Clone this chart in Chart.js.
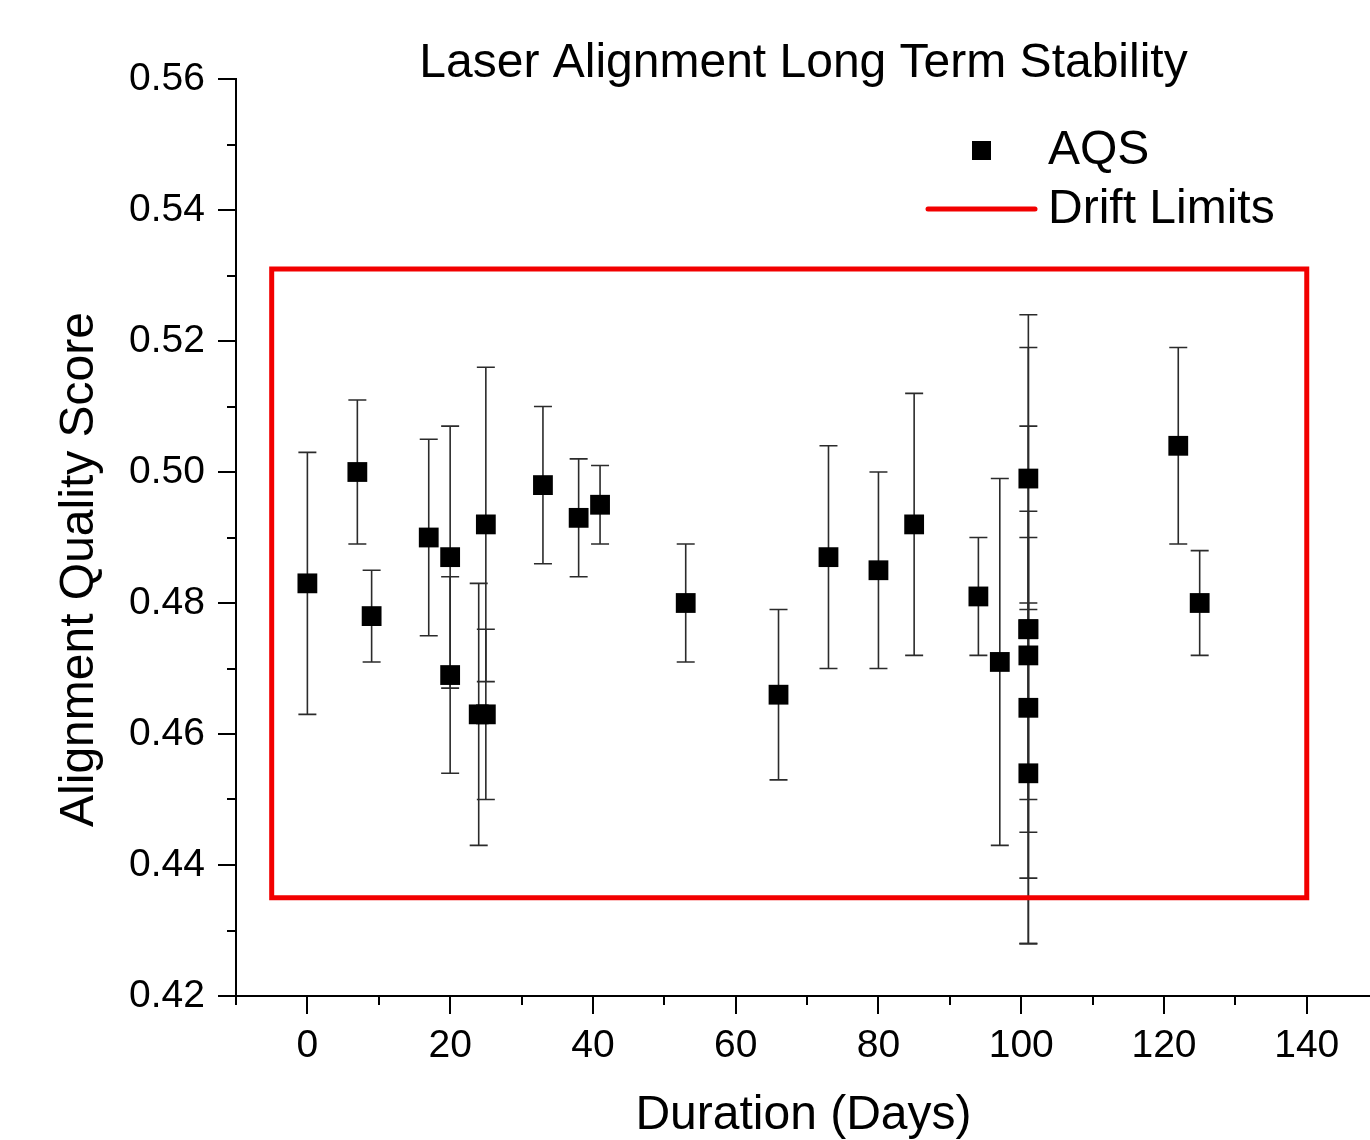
<!DOCTYPE html>
<html>
<head>
<meta charset="utf-8">
<title>Laser Alignment Long Term Stability</title>
<script src="https://cdn.jsdelivr.net/npm/chart.js@4.4.1/dist/chart.umd.min.js"></script>
<style>
  html, body { margin: 0; padding: 0; background: #fff; overflow: hidden; }
  canvas { display: block; }
</style>
</head>
<body>
<!-- canvas a little wider than the window so the x axis runs off the right edge -->
<canvas id="chart" width="1385" height="1140"></canvas>
<script>
// measurement day, alignment quality score and its +/- error
var days = [0, 7, 9, 17, 20, 20, 24, 25, 25, 33, 38, 41, 53, 66, 73, 80, 85, 94, 97, 101, 101, 101, 101, 101, 101, 122, 125]
var aqs = [0.483, 0.500, 0.478, 0.490, 0.487, 0.469, 0.463, 0.492, 0.463, 0.498, 0.493, 0.495, 0.480, 0.466, 0.487, 0.485, 0.492, 0.481, 0.471, 0.499, 0.476, 0.472, 0.464, 0.454, 0.476, 0.504, 0.480]
var aqsErr = [0.020, 0.011, 0.007, 0.015, 0.020, 0.015, 0.020, 0.024, 0.013, 0.012, 0.009, 0.006, 0.009, 0.013, 0.017, 0.015, 0.020, 0.009, 0.028, 0.020, 0.048, 0.022, 0.026, 0.026, 0.031, 0.015, 0.008]

// drift limits box (closed outline)
var driftX = [-5, -5, 140, 140, -5]
var driftY = [0.435, 0.531, 0.531, 0.435, 0.435]

// axis ticks
var xTicks = [0, 20, 40, 60, 80, 100, 120, 140]
var xMinorTicks = [-10, 10, 30, 50, 70, 90, 110, 130]
var yTicks = [0.42, 0.44, 0.46, 0.48, 0.50, 0.52, 0.54, 0.56]
var yMinorTicks = [0.43, 0.45, 0.47, 0.49, 0.51, 0.53, 0.55]

var FONT = '"Liberation Sans", Arial, Helvetica, sans-serif'

//error bars with caps, drawn under the markers
var errorBars = {
    id: 'errorBars',
    beforeDatasetsDraw(chart) {
        let ctx = chart.ctx
        let xs = chart.scales.x
        let ys = chart.scales.y
        ctx.save()
        ctx.strokeStyle = '#2b2b2b'
        ctx.lineWidth = 1.6
        days.forEach((d, i) => {
            let px = xs.getPixelForValue(d)
            let top = ys.getPixelForValue(aqs[i] + aqsErr[i])
            let bot = ys.getPixelForValue(aqs[i] - aqsErr[i])
            ctx.beginPath()
            ctx.moveTo(px, top)
            ctx.lineTo(px, bot)
            ctx.moveTo(px - 9, top)
            ctx.lineTo(px + 9, top)
            ctx.moveTo(px - 9, bot)
            ctx.lineTo(px + 9, bot)
            ctx.stroke()
        })
        ctx.restore()
    }
}

//minor ticks, y axis title and the legend
var extras = {
    id: 'extras',
    afterDraw(chart) {
        let ctx = chart.ctx
        let area = chart.chartArea
        let xs = chart.scales.x
        let ys = chart.scales.y
        ctx.save()
        ctx.strokeStyle = '#000'
        ctx.lineWidth = 2
        ctx.beginPath()
        xMinorTicks.forEach((v) => {
            let px = Math.round(xs.getPixelForValue(v))
            ctx.moveTo(px, area.bottom)
            ctx.lineTo(px, area.bottom + 9)
        })
        yMinorTicks.forEach((v) => {
            let py = Math.round(ys.getPixelForValue(v))
            ctx.moveTo(area.left, py)
            ctx.lineTo(area.left - 9, py)
        })
        ctx.stroke()

        // y axis title
        ctx.fillStyle = '#000'
        ctx.font = '48px ' + FONT
        ctx.textAlign = 'center'
        ctx.textBaseline = 'middle'
        ctx.translate(area.left - 156, (area.top + area.bottom) / 2 + 32)
        ctx.rotate(-Math.PI / 2)
        ctx.fillText('Alignment Quality Score', 0, 0)
        ctx.restore()

        // legend
        let sets = chart.data.datasets
        let lx = area.right - 323
        ctx.save()
        ctx.font = '48px ' + FONT
        ctx.textAlign = 'left'
        ctx.textBaseline = 'middle'
        ctx.fillStyle = sets[0].backgroundColor
        ctx.fillRect(lx - 76, 141, 19, 19)
        ctx.fillStyle = '#000'
        ctx.fillText(sets[0].label, lx, 151)
        ctx.strokeStyle = sets[1].borderColor
        ctx.lineWidth = 5
        ctx.lineCap = 'round'
        ctx.beginPath()
        ctx.moveTo(lx - 120, 209)
        ctx.lineTo(lx - 13, 209)
        ctx.stroke()
        ctx.fillText(sets[1].label, lx, 210)
        ctx.restore()
    }
}

new Chart(document.getElementById('chart'), {
    type: 'scatter',
    data: {
        datasets: [
            {
                label: 'AQS',
                data: days.map((d, i) => ({ x: d, y: aqs[i] })),
                pointStyle: 'rect',
                pointRadius: 14,
                backgroundColor: '#000',
                borderColor: '#000',
                borderWidth: 0,
                showLine: false,
                order: 0
            },
            {
                label: 'Drift Limits',
                data: driftX.map((x, i) => ({ x: x, y: driftY[i] })),
                showLine: true,
                fill: false,
                pointRadius: 0,
                borderColor: '#f20000',
                borderWidth: 5,
                borderJoinStyle: 'miter',
                borderCapStyle: 'square',
                tension: 0,
                order: 1
            }
        ]
    },
    options: {
        responsive: false,
        animation: false,
        events: [],
        layout: { padding: 0 },
        plugins: {
            legend: { display: false },
            tooltip: { enabled: false },
            title: {
                display: true,
                text: 'Laser Alignment Long Term Stability',
                fullSize: false,
                color: '#000',
                font: { family: FONT, size: 48, weight: 'normal', lineHeight: '30px' },
                padding: { top: 49, bottom: 0 }
            }
        },
        scales: {
            x: {
                type: 'linear',
                min: -10,
                max: 149,
                afterBuildTicks: (scale) => { scale.ticks = xTicks.map((v) => ({ value: v })) },
                afterFit: (scale) => { scale.height = 144 },
                border: { display: true, color: '#000', width: 2 },
                grid: { drawOnChartArea: false, drawTicks: true, tickLength: 18, color: '#000', lineWidth: 2 },
                ticks: {
                    color: '#000',
                    padding: 9,
                    maxRotation: 0,
                    font: { family: FONT, size: 39 }
                },
                title: {
                    display: true,
                    text: 'Duration (Days)',
                    color: '#000',
                    font: { family: FONT, size: 48 },
                    padding: { top: 0, bottom: -5 }
                }
            },
            y: {
                type: 'linear',
                min: 0.42,
                max: 0.56,
                afterBuildTicks: (scale) => { scale.ticks = yTicks.map((v) => ({ value: v })) },
                afterFit: (scale) => { scale.width = 236 },
                border: { display: true, color: '#000', width: 2 },
                grid: { drawOnChartArea: false, drawTicks: true, tickLength: 18, color: '#000', lineWidth: 2 },
                ticks: {
                    color: '#000',
                    padding: 13,
                    font: { family: FONT, size: 39 },
                    callback: (v) => Number(v).toFixed(2)
                }
            }
        }
    },
    plugins: [errorBars, extras]
})
</script>
</body>
</html>
